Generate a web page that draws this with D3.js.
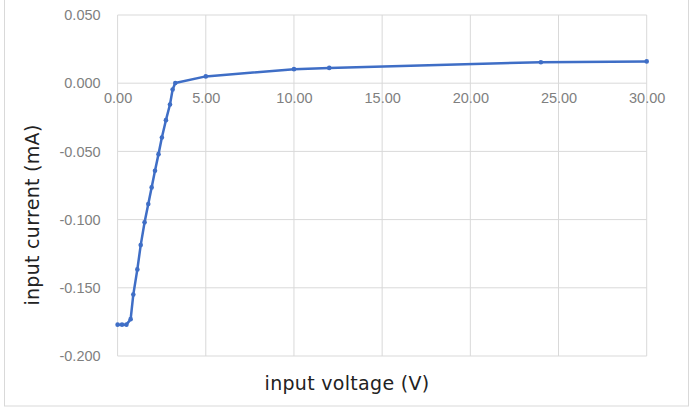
<!DOCTYPE html>
<html>
<head>
<meta charset="utf-8">
<script src="https://cdn.jsdelivr.net/npm/d3@7"></script>
<style>
  body { margin: 0; background: #fff; }
  .tick text { fill: #7f7f7f; font-family: "Liberation Sans", Arial, sans-serif; font-size: 14.5px; }
  .axisTitle { fill: #222; font-family: "DejaVu Sans", sans-serif; font-size: 19px; letter-spacing: 0.3px; }
</style>
</head>
<body>
<div id="chart"></div>
<script>
// measured points: input voltage (V) vs input current (mA)
var voltage = [0, 0.25, 0.5, 0.74, 0.89, 1.12, 1.31, 1.53, 1.74, 1.93, 2.12, 2.32, 2.51, 2.74, 2.97, 3.12, 3.27, 5, 10, 12, 24, 30];
var current = [-0.177, -0.177, -0.177, -0.173, -0.155, -0.1365, -0.1187, -0.102, -0.0886, -0.0764, -0.0642, -0.052, -0.0398, -0.0271, -0.0156, -0.0046, 0.0002, 0.005, 0.0103, 0.0112, 0.0154, 0.016];
var xTicks = [0, 5, 10, 15, 20, 25, 30];
var yTicks = [0.05, 0, -0.05, -0.1, -0.15, -0.2];

var svgWidth = 695, svgHeight = 413;
var margin = { top: 15, left: 117.6, right: 48, bottom: 57 };
var width = 646.7 - margin.left;
var height = 356 - margin.top;

var svg = d3.select("#chart").append("svg")
  .attr("width", svgWidth)
  .attr("height", svgHeight);

// outer chart border
svg.append("rect")
  .attr("x", 4.5).attr("y", -1)
  .attr("width", 684).attr("height", 407)
  .attr("fill", "none")
  .attr("stroke", "#d9d9d9");

var chartGroup = svg.append("g")
  .attr("transform", `translate(${margin.left}, ${margin.top})`);

var x = d3.scaleLinear().domain([0, 30]).range([0, width]);
var y = d3.scaleLinear().domain([-0.2, 0.05]).range([height, 0]);

// plain hyphen for negatives, like the original
var fmt3 = d => d3.format(".3f")(d).replace("\u2212", "-");
var fmt2 = d => d3.format(".2f")(d).replace("\u2212", "-");

// gridlines
chartGroup.selectAll("line.hgrid")
  .data(yTicks)
  .enter()
  .append("line")
  .attr("x1", 0).attr("x2", width)
  .attr("y1", d => y(d)).attr("y2", d => y(d))
  .attr("stroke", "#d9d9d9");

chartGroup.selectAll("line.vgrid")
  .data(xTicks)
  .enter()
  .append("line")
  .attr("x1", d => x(d)).attr("x2", d => x(d))
  .attr("y1", 0).attr("y2", height)
  .attr("stroke", "#d9d9d9");

// y axis labels
var yAxis = d3.axisLeft(y).tickValues(yTicks).tickFormat(fmt3).tickSize(0).tickPadding(17);
chartGroup.append("g").call(yAxis).call(g => g.select(".domain").remove());

// x axis labels sit along y = 0
var xAxis = d3.axisBottom(x).tickValues(xTicks).tickFormat(fmt2).tickSize(0).tickPadding(10);
chartGroup.append("g")
  .attr("transform", `translate(0, ${y(0)})`)
  .call(xAxis)
  .call(g => g.select(".domain").remove());

// data line
var line = d3.line()
  .x((d, i) => x(voltage[i]))
  .y(d => y(d));

chartGroup.append("path")
  .datum(current)
  .attr("d", line)
  .attr("fill", "none")
  .attr("stroke", "#3f6ec6")
  .attr("stroke-width", 2.5)
  .attr("stroke-linejoin", "round");

chartGroup.selectAll("circle")
  .data(current)
  .enter()
  .append("circle")
  .attr("cx", (d, i) => x(voltage[i]))
  .attr("cy", d => y(d))
  .attr("r", 2.3)
  .attr("fill", "#3f6ec6");

// axis titles
svg.append("text")
  .attr("class", "axisTitle")
  .attr("x", 347).attr("y", 390)
  .attr("text-anchor", "middle")
  .text("input voltage (V)");

svg.append("text")
  .attr("class", "axisTitle")
  .attr("transform", "translate(39, 215) rotate(-90)")
  .attr("text-anchor", "middle")
  .text("input current (mA)");
</script>
</body>
</html>
